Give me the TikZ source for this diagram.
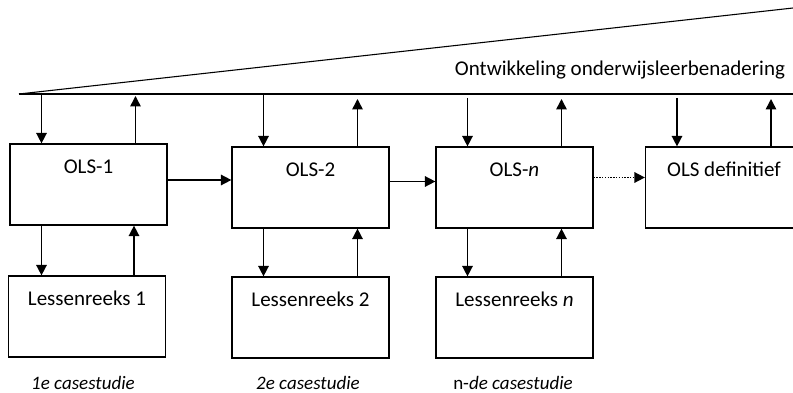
\documentclass[tikz,border=0pt]{standalone}
\usepackage{fontspec}
\setmainfont{Carlito}
\usepackage{tikz}
\usetikzlibrary{positioning,calc,arrows.meta}

\tikzset{
    box/.style={draw, line width=1.2pt, minimum width=157pt, inner xsep=0pt, inner ysep=0pt,
        text height=29.5pt, text depth=51.5pt, font=\fontsize{21}{25}\selectfont},
    arr/.style={line width=1.5pt, -{Triangle[length=10.5pt,width=10.5pt]}},
    case/.style={font=\fontsize{19}{23}\selectfont\itshape}
}

\begin{document}
\begin{tikzpicture}[x=1pt, y=-1pt]
    \useasboundingbox (0,0) rectangle (793,393);
    \clip (0,0) rectangle (793,393);

    % Development line
    \coordinate (L) at (19,94);
    \coordinate (R) at (793,94);
    \coordinate (Rt) at (793,8);
    \draw[line width=1.1pt] (L) -- (R);
    \draw[line width=1.1pt] (L) -- (Rt);
    \node[font=\fontsize{21}{25}\selectfont] (title) at (620,70) {Ontwikkeling onderwijsleerbenadering};

    % OLS boxes
    \node[box] (O1) at (88.5,184.5) {OLS-1};
    \node[box] (O2) at (310.5,187.5) {OLS-2};
    \node[box] (On) at (514.5,187.5) {OLS-\textit{n}};
    \node[box] (Od) at (724,187.5) {OLS definitief};

    % Lessons
    \node[box] (L1) at (87,316.5) {Lessenreeks 1};
    \node[box] (L2) at (310.5,317.5) {Lessenreeks 2};
    \node[box] (Ln) at (514.5,317.5) {Lessenreeks \textit{n}};

    % Case studies
    \node[case] (C1) at (83,383) {1e casestudie};
    \node[case] (C2) at (308,383) {2e casestudie};
    \node[case] (Cn) at (513,383) {\upshape n-\itshape de casestudie};

    % Arrow ends on the boxes
    \path (O1.north) +(-47,0) coordinate (O1a) +(47,0) coordinate (O1b);
    \path (O2.north) +(-47,0) coordinate (O2a) +(47,0) coordinate (O2b);
    \path (On.north) +(-47,0) coordinate (Ona) +(47,0) coordinate (Onb);
    \path (Od.north) +(-47,0) coordinate (Oda) +(47,0) coordinate (Odb);
    \path (O1.south) +(-47,0) coordinate (O1c);
    \path (O2.south) +(-47,0) coordinate (O2c);
    \path (On.south) +(-47,0) coordinate (Onc);
    \path (L1.north) +(47,0) coordinate (L1b);
    \path (L2.north) +(47,0) coordinate (L2b);
    \path (Ln.north) +(47,0) coordinate (Lnb);

    % Line to OLS and back
    \draw[arr] (O1a |- L) -- (O1a);
    \draw[arr] (O1b) -- ($(O1b |- L)+(0,2)$);
    \draw[arr] (O2a |- L) -- (O2a);
    \draw[arr] (O2b) -- ($(O2b |- L)+(0,5)$);
    \draw[arr] ($(Ona |- L)+(0,4)$) -- (Ona);
    \draw[arr] (Onb) -- ($(Onb |- L)+(0,5)$);
    \draw[arr] ($(Oda |- L)+(0,4)$) -- (Oda);
    \draw[arr] (Odb) -- ($(Odb |- L)+(0,5)$);

    % OLS to lessons and back
    \draw[arr] (O1c) -- (O1c |- L1.north);
    \draw[arr] (L1b) -- (L1b |- O1.south);
    \draw[arr] (O2c) -- (O2c |- L2.north);
    \draw[arr] (L2b) -- (L2b |- O2.south);
    \draw[arr] (Onc) -- (Onc |- Ln.north);
    \draw[arr] (Lnb) -- (Lnb |- On.south);

    % Between OLS versions
    \coordinate (h1) at ($(O1.east)+(0,-4.5)$);
    \coordinate (h2) at ($(O2.east)+(0,-6)$);
    \coordinate (h3) at ($(On.east)+(0,-10)$);
    \draw[arr] (h1) -- (h1 -| O2.west);
    \draw[arr] (h2) -- (h2 -| On.west);
    \draw[arr, dash pattern=on 1.4pt off 1.4pt] (h3) -- (h3 -| Od.west);
\end{tikzpicture}
\end{document}
